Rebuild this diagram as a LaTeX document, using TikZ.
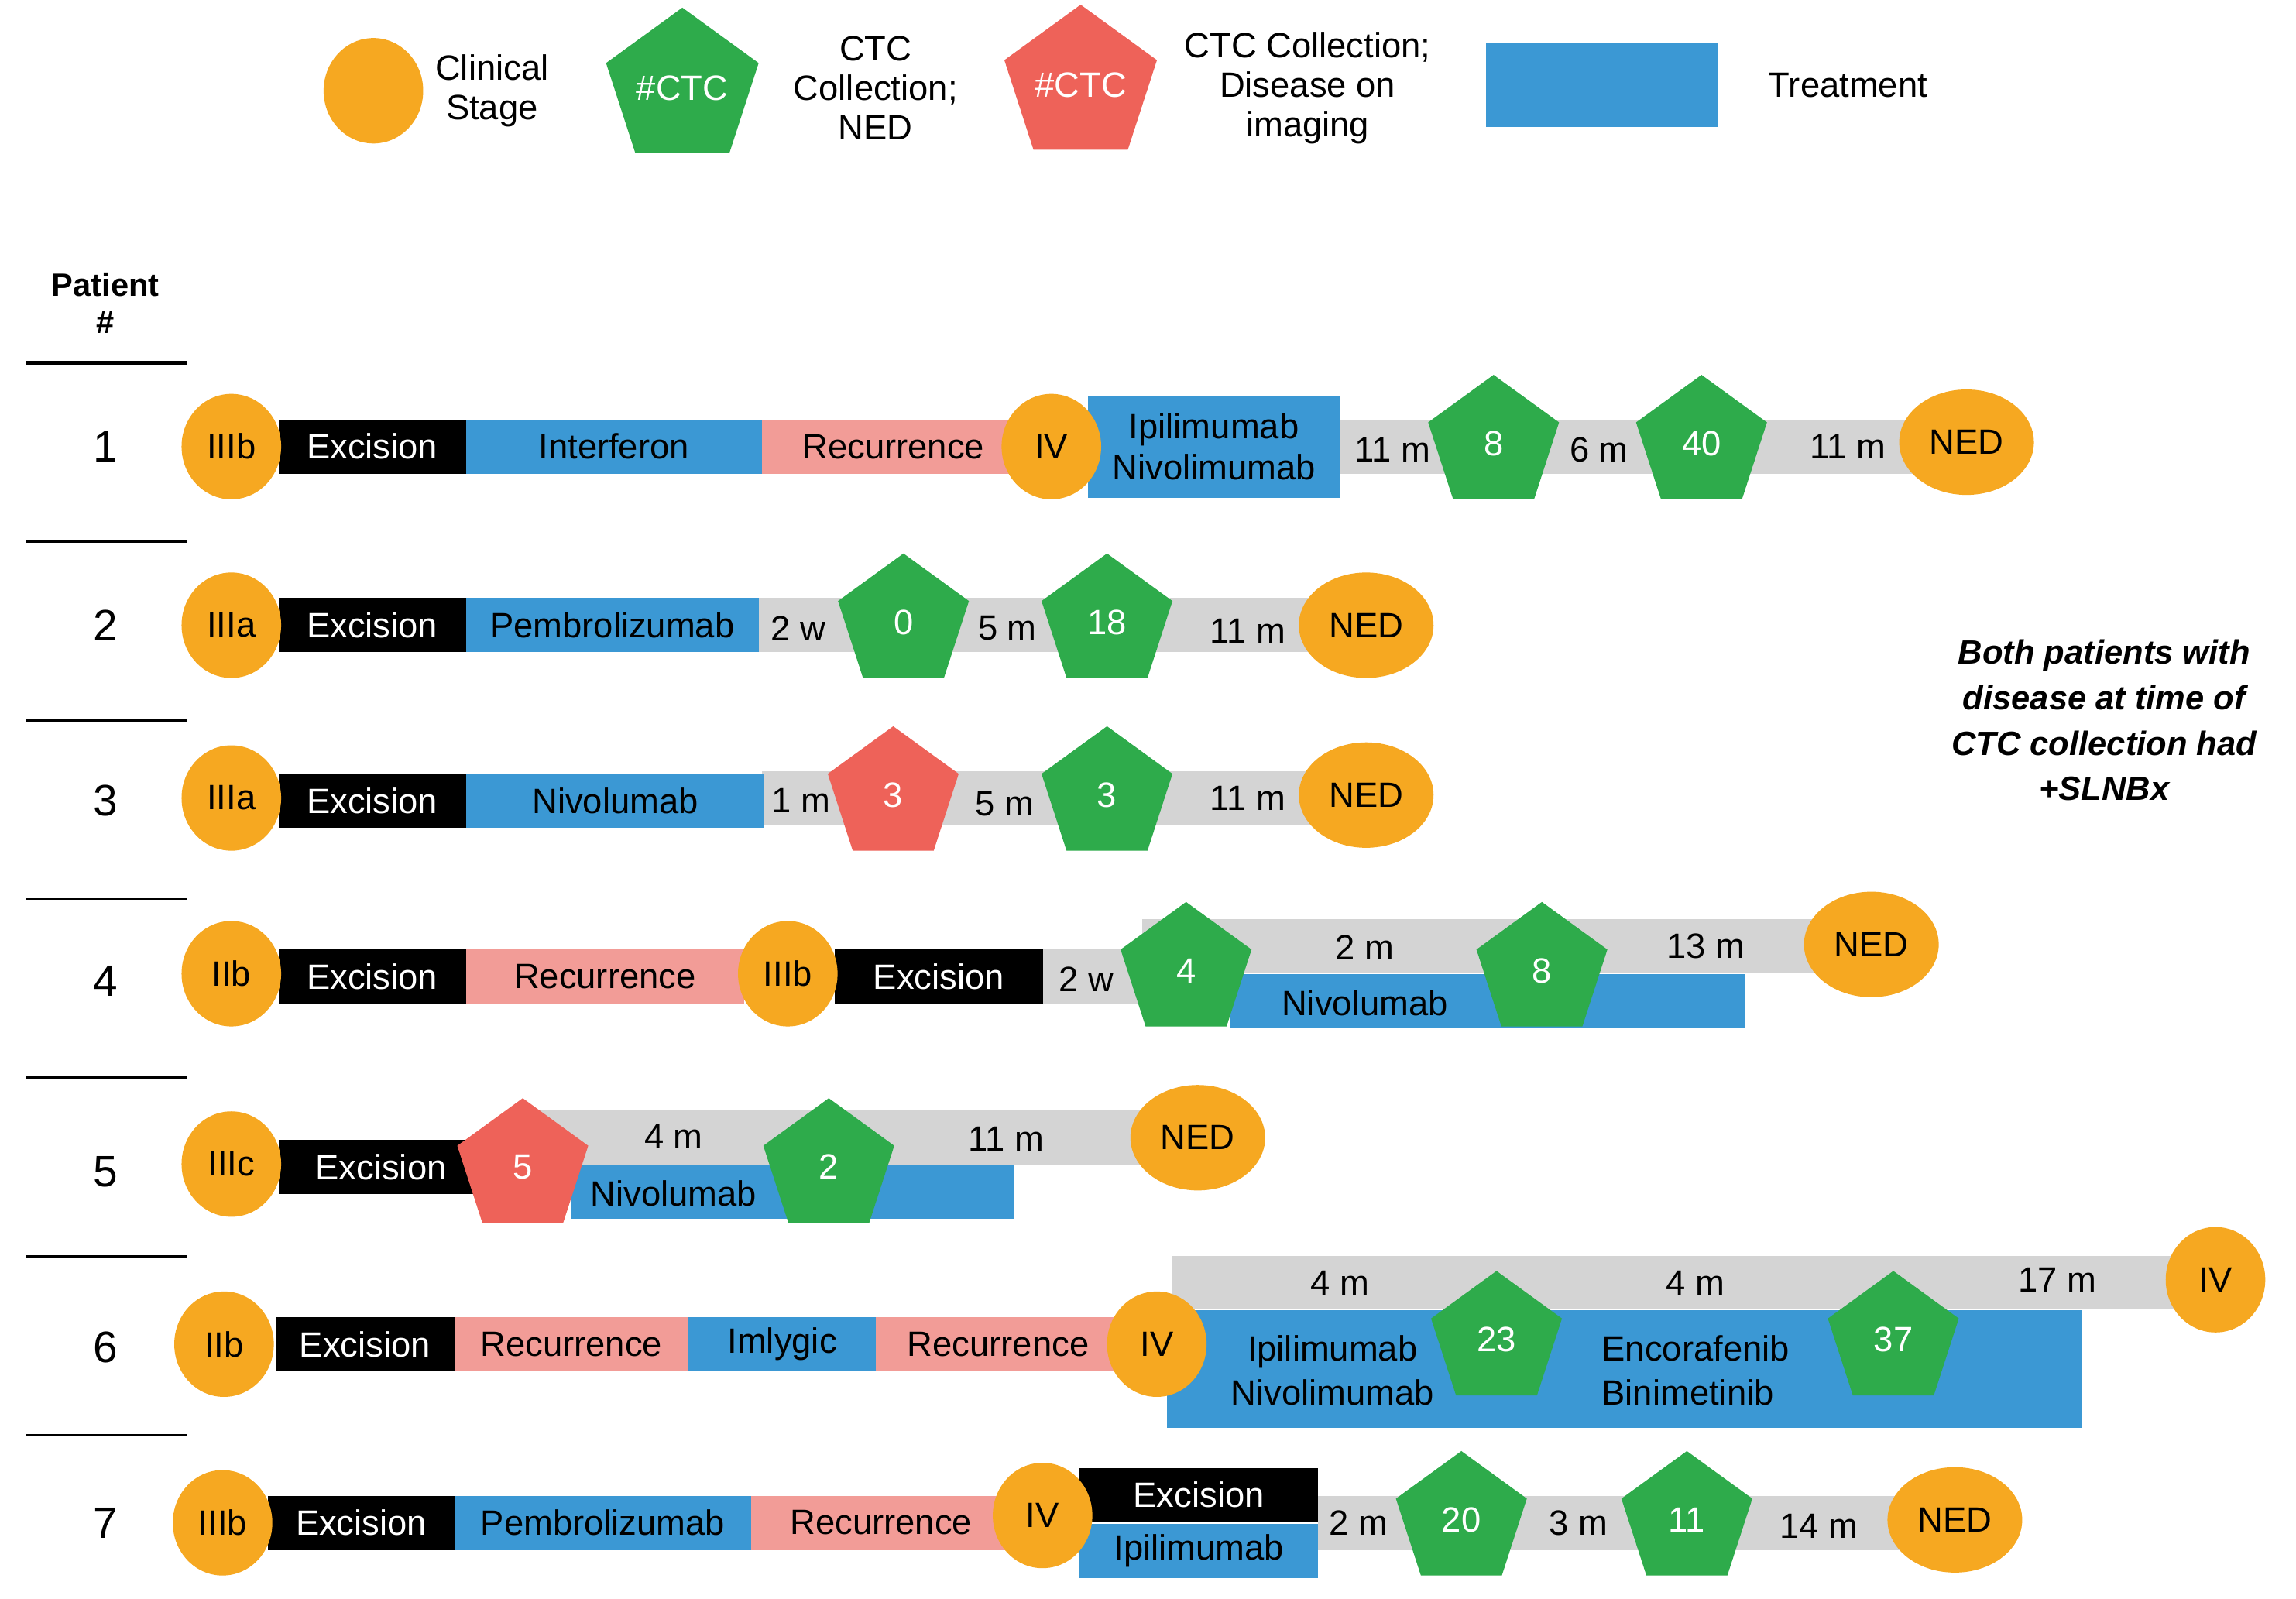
\documentclass[tikz,border=0pt]{standalone}
\usepackage{fontspec}
\setmainfont{Liberation Sans}
\usetikzlibrary{shapes.geometric}
\definecolor{cor}{HTML}{F6A821}
\definecolor{cgr}{HTML}{2EAB4B}
\definecolor{cre}{HTML}{EE6259}
\definecolor{cbl}{HTML}{3B98D4}
\definecolor{cpk}{HTML}{F29C97}
\definecolor{cgy}{HTML}{D4D4D4}
\newcommand{\mybar}[7]{\node[rectangle,inner sep=0,fill=#5,minimum height=37pt,minimum width=#3pt-#2pt,anchor=west,text=#7,font=\fontsize{24}{26}\selectfont] (#1) at (#2,#4) {#6};}
\tikzset{
 stg/.style={ellipse,fill=cor,inner sep=0,minimum width=68pt,minimum height=72pt,font=\fontsize{24}{26}\selectfont},
 ned/.style={stg,minimum width=92pt},
 pg/.style={regular polygon,regular polygon sides=5,fill=cgr,inner sep=0,minimum size=94pt,text=white,font=\fontsize{24}{26}\selectfont},
 pr/.style={pg,fill=cre},
 lb/.style={font=\fontsize{24}{26}\selectfont},
 num/.style={font=\fontsize{30}{32}\selectfont},
 two/.style={lb,align=center,font=\fontsize{24}{27}\selectfont},
}
\begin{document}
\begin{tikzpicture}[x=1pt,y=-1pt]
\useasboundingbox[fill=white] (0,0) rectangle (1568,1092);
% legend
\node[stg,minimum width=68pt,minimum height=72pt] (lc) at (255,62) {};
\node[two] (lct) at (336,62) {Clinical\\Stage};
\node[pg] (lg) at (466,60) {\#CTC};
\node[two] (lgt) at (598,60) {CTC\\Collection;\\NED};
\node[pr] (lr) at (738,58) {\#CTC};
\node[two] (lrt) at (893,60) {CTC Collection;\\Disease on\\imaging};
\node[rectangle,fill=cbl,minimum width=158pt,minimum height=57pt,inner sep=0] (lb) at (1094,58) {};
\node[lb] (lbt) at (1262,58) {Treatment};
% header
\node[align=center,font=\bfseries\fontsize{22}{25}\selectfont] (ph) at (72,207) {Patient\\\#};
\draw[line width=3pt] (18,248) -- (128,248);
\foreach \yy in {370,492,614,736,858,980} \draw[line width=1.5pt] (18,\yy) -- (128,\yy);
\foreach \n/\yy in {1/305,2/427,3/547,4/670,5/800,6/920,7/1040} \node[num] (n\n) at (72,\yy) {\n};
\node[align=center,font=\bfseries\itshape\fontsize{23}{31}\selectfont] (note) at (1437,492) {Both patients with\\disease at time of\\CTC collection had\\+SLNBx};
% row 1
\mybar{r1g}{910}{1320}{305}{cgy}{}{black}
\mybar{r1a}{190}{318}{305}{black}{Excision}{white}
\mybar{r1b}{318}{520}{305}{cbl}{Interferon}{black}
\mybar{r1c}{520}{700}{305}{cpk}{Recurrence}{black}
\node[rectangle,fill=cbl,minimum width=172pt,minimum height=70pt,inner sep=0,align=center,font=\fontsize{24}{28}\selectfont] (r1d) at (829,305) {Ipilimumab\\Nivolimumab};
\node[lb] (r1t1) at (951,307) {11 m};
\node[lb] (r1t2) at (1092,307) {6 m};
\node[lb] (r1t3) at (1262,305) {11 m};
\node[stg] (r1s) at (158,305) {IIIb};
\node[stg] (r1s2) at (718,305) {IV};
\node[pg] (r1p1) at (1020,303) {8};
\node[pg] (r1p2) at (1162,303) {40};
\node[ned] (r1e) at (1343,302) {NED};
% row 2
\mybar{r2g}{515}{905}{427}{cgy}{}{black}
\mybar{r2a}{190}{318}{427}{black}{Excision}{white}
\mybar{r2b}{318}{518}{427}{cbl}{Pembrolizumab}{black}
\node[lb] (r2t1) at (545,429) {2 w};
\node[lb] (r2t2) at (688,429) {5 m};
\node[lb] (r2t3) at (852,431) {11 m};
\node[stg] (r2s) at (158,427) {IIIa};
\node[pg] (r2p1) at (617,425) {0};
\node[pg] (r2p2) at (756,425) {18};
\node[ned] (r2e) at (933,427) {NED};
% row 3
\mybar{r3g}{520}{905}{545}{cgy}{}{black}
\mybar{r3a}{190}{318}{547}{black}{Excision}{white}
\mybar{r3b}{318}{522}{547}{cbl}{Nivolumab}{black}
\node[lb] (r3t1) at (547,547) {1 m};
\node[lb] (r3t2) at (686,549) {5 m};
\node[lb] (r3t3) at (852,545) {11 m};
\node[stg] (r3s) at (158,545) {IIIa};
\node[pr] (r3p1) at (610,543) {3};
\node[pg] (r3p2) at (756,543) {3};
\node[ned] (r3e) at (933,543) {NED};
% row 4
\mybar{r4g0}{712}{790}{667}{cgy}{}{black}
\mybar{r4g}{780}{1262}{646}{cgy}{}{black}
\mybar{r4bl}{840}{1192}{684}{cbl}{}{black}
\mybar{r4a}{190}{318}{667}{black}{Excision}{white}
\mybar{r4b}{318}{508}{667}{cpk}{Recurrence}{black}
\mybar{r4c}{570}{712}{667}{black}{Excision}{white}
\node[lb] (r4t1) at (742,669) {2 w};
\node[lb] (r4t2) at (932,647) {2 m};
\node[lb] (r4t3) at (1165,646) {13 m};
\node[lb] (r4t4) at (932,685) {Nivolumab};
\node[stg] (r4s) at (158,665) {IIb};
\node[stg] (r4s2) at (538,665) {IIIb};
\node[pg] (r4p1) at (810,663) {4};
\node[pg] (r4p2) at (1053,663) {8};
\node[ned] (r4e) at (1278,645) {NED};
% row 5
\mybar{r5g}{357}{805}{777}{cgy}{}{black}
\mybar{r5bl}{390}{692}{814}{cbl}{}{black}
\mybar{r5a}{190}{330}{797}{black}{Excision}{white}
\node[lb] (r5t1) at (460,776) {4 m};
\node[lb] (r5t2) at (687,778) {11 m};
\node[lb] (r5t3) at (460,815) {Nivolumab};
\node[stg] (r5s) at (158,795) {IIIc};
\node[pr] (r5p1) at (357,797) {5};
\node[pg] (r5p2) at (566,797) {2};
\node[ned] (r5e) at (818,777) {NED};
% row 6
\mybar{r6g}{800}{1495}{876}{cgy}{}{black}
\node[rectangle,fill=cbl,minimum width=625pt,minimum height=80pt,inner sep=0] (r6bl) at (1109.5,935) {};
\mybar{r6a}{188}{310}{918}{black}{Excision}{white}
\mybar{r6b}{310}{470}{918}{cpk}{Recurrence}{black}
\mybar{r6c}{470}{598}{918}{cbl}{Imlygic}{black}
\mybar{r6d}{598}{765}{918}{cpk}{Recurrence}{black}
\node[lb] (r6t1) at (915,876) {4 m};
\node[lb] (r6t2) at (1158,876) {4 m};
\node[lb] (r6t3) at (1405,874) {17 m};
\node[two,font=\fontsize{24}{30}\selectfont] (r6t4) at (910,936) {Ipilimumab\\Nivolimumab};
\node[two,align=left,font=\fontsize{24}{30}\selectfont] (r6t5) at (1158,936) {Encorafenib\\Binimetinib};
\node[stg] (r6s) at (153,918) {IIb};
\node[stg] (r6s2) at (790,918) {IV};
\node[stg] (r6s3) at (1513,874) {IV};
\node[pg] (r6p1) at (1022,915) {23};
\node[pg] (r6p2) at (1293,915) {37};
% row 7
\mybar{r7g}{900}{1300}{1040}{cgy}{}{black}
\mybar{r7a}{183}{310}{1040}{black}{Excision}{white}
\mybar{r7b}{310}{513}{1040}{cbl}{Pembrolizumab}{black}
\mybar{r7c}{513}{690}{1040}{cpk}{Recurrence}{black}
\mybar{r7d}{737}{900}{1021}{black}{Excision}{white}
\mybar{r7e}{737}{900}{1059}{cbl}{Ipilimumab}{black}
\node[lb] (r7t1) at (928,1040) {2 m};
\node[lb] (r7t2) at (1078,1040) {3 m};
\node[lb] (r7t3) at (1242,1042) {14 m};
\node[stg] (r7s) at (152,1040) {IIIb};
\node[stg] (r7s2) at (712,1035) {IV};
\node[pg] (r7p1) at (998,1038) {20};
\node[pg] (r7p2) at (1152,1038) {11};
\node[ned] (r7e) at (1335,1038) {NED};
\end{tikzpicture}
\end{document}
